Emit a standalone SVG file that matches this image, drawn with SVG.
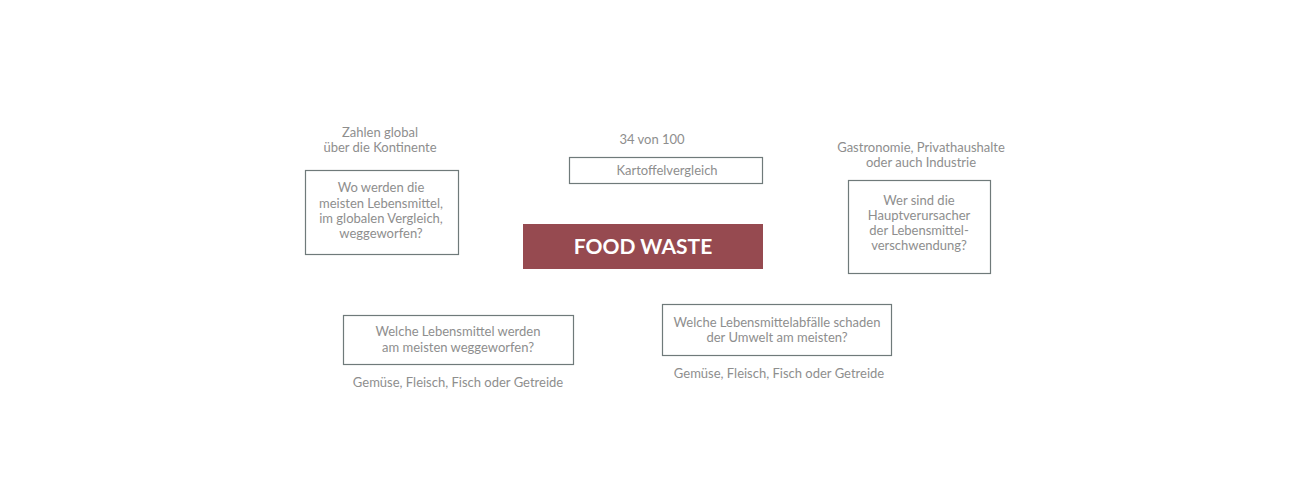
<svg xmlns="http://www.w3.org/2000/svg" width="1312" height="494" viewBox="0 0 1312 494">
<style>
.t{font-family:Lato,"Noto Sans",sans-serif;font-size:13px;fill:#8e8e8e;text-anchor:middle}
.b{fill:#ffffff;stroke:#6f7a7a;stroke-width:1.2}
.h{font-family:Lato,"Noto Sans",sans-serif;font-size:21px;font-weight:bold;fill:#ffffff;text-anchor:middle}
</style>
<rect width="1312" height="494" fill="#ffffff"/>
<g id="connectors"></g>
<g id="n-global">
<text class="t" x="380" y="137">Zahlen global</text>
<text class="t" x="380" y="152">über die Kontinente</text>
<rect class="b" x="305.5" y="170.5" width="153" height="84"/>
<text class="t" x="381" y="192">Wo werden die</text>
<text class="t" x="381" y="208">meisten Lebensmittel,</text>
<text class="t" x="381" y="223">im globalen Vergleich,</text>
<text class="t" x="381" y="238">weggeworfen?</text>
</g>
<g id="n-kartoffel">
<text class="t" x="652" y="144">34 von 100</text>
<rect class="b" x="569.5" y="157.5" width="193" height="26"/>
<text class="t" x="667" y="175">Kartoffelvergleich</text>
</g>
<g id="n-center">
<rect x="523" y="224" width="240" height="45" fill="#964a50"/>
<text class="h" x="643" y="254">FOOD WASTE</text>
</g>
<g id="n-verursacher">
<text class="t" x="921" y="152">Gastronomie, Privathaushalte</text>
<text class="t" x="921" y="167">oder auch Industrie</text>
<rect class="b" x="848.5" y="180.5" width="142" height="93"/>
<text class="t" x="919" y="205">Wer sind die</text>
<text class="t" x="919" y="220">Hauptverursacher</text>
<text class="t" x="919" y="235">der Lebensmittel-</text>
<text class="t" x="919" y="250">verschwendung?</text>
</g>
<g id="n-welche">
<rect class="b" x="343.5" y="315.5" width="230" height="49"/>
<text class="t" x="458" y="336">Welche Lebensmittel werden</text>
<text class="t" x="458" y="352">am meisten weggeworfen?</text>
<text class="t" x="458" y="387">Gemüse, Fleisch, Fisch oder Getreide</text>
</g>
<g id="n-umwelt">
<rect class="b" x="662.5" y="304.5" width="229" height="51"/>
<text class="t" x="777" y="327">Welche Lebensmittelabfälle schaden</text>
<text class="t" x="777" y="342">der Umwelt am meisten?</text>
<text class="t" x="779" y="378">Gemüse, Fleisch, Fisch oder Getreide</text>
</g>
</svg>
